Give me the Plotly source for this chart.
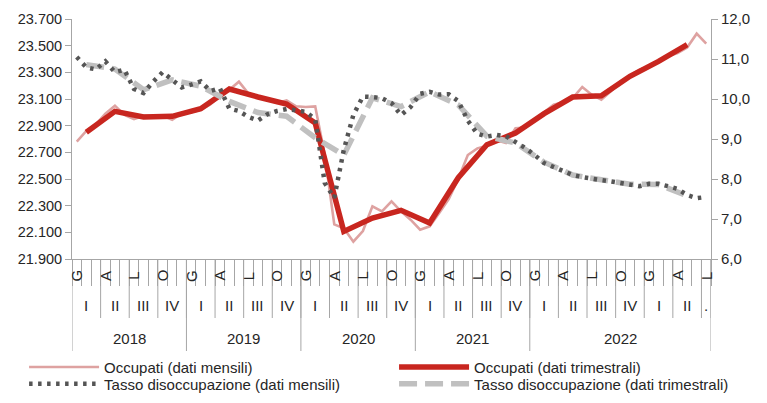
import plotly.graph_objects as go

# ---------------- data ----------------
occ_mensili = [
    22780, 22860, 22910, 22990, 23050, 22980, 22950, 22975, 22970, 22975, 22945, 22990,
    23000, 23020, 23060, 23120, 23170, 23230, 23140, 23110, 23095, 23070, 23090, 23045,
    23040, 23045, 22680, 22160, 22130, 22030, 22110, 22295, 22257, 22332, 22257, 22195,
    22120, 22145, 22245, 22350, 22500, 22680, 22730, 22750, 22790, 22770, 22880, 22885,
    22945, 23000, 23057, 23075, 23107, 23190, 23132, 23095, 23157, 23232, 23275, 23320,
    23345, 23380, 23420, 23445, 23486, 23590, 23515,
]
occ_trimestrali = [
    22850, 23007, 22965, 22970,
    23027, 23175, 23115, 23062,
    22920, 22107, 22207, 22265,
    22170, 22510, 22757, 22845,
    22990, 23115, 23125, 23270,
    23382, 23507,
]
tasso_mensili = [
    11.05, 10.79, 10.74, 10.94, 10.67, 10.73, 10.25, 10.15, 10.43, 10.67, 10.48, 10.29,
    10.36, 10.44, 10.20, 10.27, 9.76, 9.70, 9.55, 9.46, 9.62, 9.70, 9.75, 9.72,
    9.68, 9.50, 7.90, 7.53, 8.73, 9.60, 10.06, 10.05, 10.02, 9.90, 9.60, 9.80,
    10.13, 10.18, 10.11, 10.12, 9.95, 9.46, 9.13, 9.06, 9.10, 9.07, 8.93, 8.78,
    8.60, 8.40, 8.30, 8.20, 8.10, 8.05, 8.00, 7.97, 7.94, 7.90, 7.85, 7.82,
    7.88, 7.88, 7.82, 7.75, 7.60, 7.52, 7.55,
]
tasso_trimestrali = [
    10.86, 10.75, 10.23, 10.48,
    10.32, 9.94, 9.66, 9.57,
    9.03, 8.60, 10.03, 9.81,
    10.18, 9.85, 9.07, 8.90,
    8.42, 8.10, 7.98, 7.87,
    7.86, 7.58,
]
month_letters = ["G", "A", "L", "O"]          # one every 3 months
quarter_labels = ["I", "II", "III", "IV"]
last_quarter_label = "."
year_labels = ["2018", "2019", "2020", "2021", "2022"]
year_spans = [12, 12, 12, 12, 19]              # months under each year label

n_months = len(occ_mensili)
x_m = list(range(n_months))
x_q = [3 * i + 1 for i in range(len(occ_trimestrali))]

FONT = "Liberation Sans Narrow, Arial Narrow, Liberation Sans, Arial, sans-serif"
TXT = "#262626"
AX = "#a6a6a6"

# legend placement (paper units): two columns, two rows
LX1, LX2 = -0.075, 0.504
LY1, LY2 = -0.382, -0.452

fig = go.Figure()
fig.add_trace(go.Scatter(x=x_m, y=occ_mensili, mode="lines", name="Occupati (dati mensili)",
                         line=dict(color="#dea2a1", width=2.6), legend="legend"))
fig.add_trace(go.Scatter(x=x_q, y=occ_trimestrali, mode="lines", name="Occupati (dati trimestrali)",
                         line=dict(color="#c8261f", width=5.5), legend="legend2"))
fig.add_trace(go.Scatter(x=x_q, y=tasso_trimestrali, mode="lines", yaxis="y2",
                         name="Tasso disoccupazione (dati trimestrali)",
                         line=dict(color="#c0c0c0", width=5.5, dash="18px,8px"), legend="legend4"))
fig.add_trace(go.Scatter(x=x_m, y=tasso_mensili, mode="lines", yaxis="y2",
                         name="Tasso disoccupazione (dati mensili)",
                         line=dict(color="#555555", width=4.5, dash="3.5px,5.5px"), legend="legend3"))

H = 240.0
def py(px_below):
    return -px_below / H

shapes = []
annotations = []
n_q_bounds = (n_months + 2) // 3
for k in range(1, n_q_bounds + 1):
    xb = min(3 * k - 0.5, n_months - 0.5)
    shapes.append(dict(type="line", xref="x", yref="paper", x0=xb, x1=xb, y0=0, y1=py(59),
                       line=dict(color=AX, width=1)))
acc = -0.5
shapes.append(dict(type="line", xref="x", yref="paper", x0=acc, x1=acc, y0=0, y1=py(92),
                   line=dict(color=AX, width=1)))
for span in year_spans:
    acc += span
    shapes.append(dict(type="line", xref="x", yref="paper", x0=acc, x1=acc, y0=0, y1=py(92),
                       line=dict(color=AX, width=1)))

for m in range(0, n_months, 3):
    annotations.append(dict(x=m, y=py(16.7), xref="x", yref="paper", xanchor="center", yanchor="middle",
                            text=month_letters[(m // 3) % 4], showarrow=False, textangle=-90,
                            font=dict(size=15, color=TXT, family=FONT)))
for k in range(n_q_bounds):
    start = 3 * k
    end = min(3 * k + 2, n_months - 1)
    lab = quarter_labels[k % 4] if (end - start) == 2 else last_quarter_label
    annotations.append(dict(x=(start + end) / 2, y=py(46.7), xref="x", yref="paper",
                            xanchor="center", yanchor="middle", text=lab, showarrow=False,
                            font=dict(size=15, color=TXT, family=FONT)))
acc = -0.5
for lab, span in zip(year_labels, year_spans):
    annotations.append(dict(x=acc + span / 2, y=py(79), xref="x", yref="paper",
                            xanchor="center", yanchor="middle", text=lab, showarrow=False,
                            font=dict(size=15, color=TXT, family=FONT)))
    acc += span

def leg(x, y):
    return dict(orientation="h", x=x, xanchor="left", y=y, yanchor="top", itemwidth=70,
                font=dict(size=15, family=FONT, color=TXT), bgcolor="rgba(0,0,0,0)",
                itemclick=False, itemdoubleclick=False)

fig.update_layout(
    width=767, height=403,
    margin=dict(l=72, r=56, t=19, b=144, autoexpand=False),
    paper_bgcolor="white", plot_bgcolor="white",
    separators=",.",
    font=dict(family=FONT, size=15, color=TXT),
    showlegend=True,
    legend=leg(LX1, LY1), legend2=leg(LX2, LY1),
    legend3=leg(LX1, LY2), legend4=leg(LX2, LY2),
    xaxis=dict(range=[-0.5, n_months - 0.5], showgrid=False, zeroline=False,
               showline=True, linecolor=AX, linewidth=1,
               tickmode="array", tickvals=[i - 0.5 for i in range(n_months + 1)],
               ticks="outside", ticklen=26, tickcolor=AX, tickwidth=1,
               showticklabels=False, automargin=False),
    yaxis=dict(range=[21900, 23700], dtick=200, tick0=21900, tickformat=",.0f",
               showgrid=False, zeroline=False, showline=True, linecolor=AX, linewidth=1,
               ticks="outside", ticklen=6, tickcolor=AX, automargin=False,
               tickfont=dict(size=14.5, family=FONT, color=TXT)),
    yaxis2=dict(range=[6, 12], dtick=1, tick0=6, tickformat=".1f", overlaying="y", side="right",
                showgrid=False, zeroline=False, showline=True, linecolor=AX, linewidth=1,
                ticks="outside", ticklen=6, tickcolor=AX, automargin=False,
                tickfont=dict(size=15, family=FONT, color=TXT)),
    shapes=shapes,
    annotations=annotations,
)

fig.write_html("out.html")
